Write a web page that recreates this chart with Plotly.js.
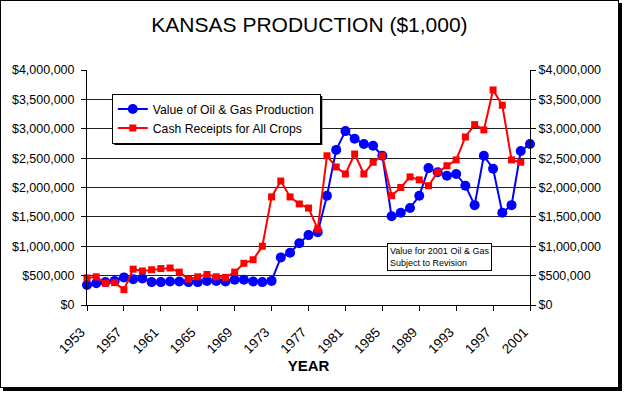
<!DOCTYPE html>
<html>
<head>
<meta charset="utf-8">
<script src="https://cdn.plot.ly/plotly-3.0.1.min.js"></script>
<style>
  html, body { margin: 0; padding: 0; background: #fff; }
  #frame { position: absolute; left: 0; top: 0; width: 619px; height: 388px;
           box-sizing: border-box; border: 1px solid #000; box-shadow: 3px 3px 0 #000; background: #fff; }
  #chart { width: 617px; height: 386px; }
</style>
</head>
<body>
<div id="frame"><div id="chart"></div></div>
<script>
// Years 1953-2001
const years = [1953,1954,1955,1956,1957,1958,1959,1960,1961,1962,
               1963,1964,1965,1966,1967,1968,1969,1970,1971,1972,
               1973,1974,1975,1976,1977,1978,1979,1980,1981,1982,
               1983,1984,1985,1986,1987,1988,1989,1990,1991,1992,
               1993,1994,1995,1996,1997,1998,1999,2000,2001];

// Value of Oil & Gas Production ($1,000)
const oilGas = [340000,370000,390000,410000,470000,440000,450000,390000,390000,400000,
                400000,390000,390000,410000,410000,400000,430000,430000,400000,390000,
                410000,810000,890000,1050000,1190000,1240000,1860000,2640000,2960000,2830000,
                2740000,2710000,2540000,1510000,1570000,1650000,1860000,2330000,2260000,2200000,
                2230000,2030000,1700000,2540000,2320000,1570000,1700000,2620000,2740000];

// Cash Receipts for All Crops ($1,000), 1953-2000
const crops = [460000,480000,370000,380000,260000,610000,580000,600000,620000,630000,
               560000,440000,480000,520000,480000,470000,560000,710000,770000,1000000,
               1840000,2110000,1840000,1720000,1650000,1290000,2540000,2350000,2230000,2570000,
               2230000,2430000,2540000,1860000,2000000,2180000,2130000,2030000,2260000,2370000,
               2470000,2860000,3070000,2980000,3660000,3400000,2470000,2430000];

const yearTicks = [1953,1957,1961,1965,1969,1973,1977,1981,1985,1989,1993,1997,2001];

const FONT = '"Liberation Sans", Arial, sans-serif';

const traces = [
  { x: years, y: oilGas, type: 'scatter', mode: 'lines+markers', cliponaxis: false,
    name: 'Value of Oil & Gas Production',
    line: { color: '#0000FF', width: 2 },
    marker: { color: '#0000FF', symbol: 'circle', size: 10 } },
  { x: years.slice(0, crops.length), y: crops, type: 'scatter', mode: 'lines+markers', cliponaxis: false,
    name: 'Cash Receipts for All Crops',
    line: { color: '#FF0000', width: 2 },
    marker: { color: '#FF0000', symbol: 'square', size: 7 } },
  { x: years, y: oilGas, yaxis: 'y2', type: 'scatter', mode: 'lines',
    opacity: 0, showlegend: false, hoverinfo: 'skip', line: { width: 0 } }
];

const yCommon = {
  range: [0, 4000000], dtick: 500000, tick0: 0,
  tickprefix: '$', tickformat: ',.0f',
  showline: true, linecolor: '#000', linewidth: 1,
  ticks: 'outside', ticklen: 5, tickcolor: '#000',
  tickfont: { family: FONT, size: 12.5, color: '#000' },
  zeroline: false, fixedrange: true
};

const M = { l: 86, r: 88, t: 69, b: 82 };

const layout = {
  width: 617, height: 386,
  margin: M,
  paper_bgcolor: '#fff', plot_bgcolor: '#fff',
  font: { family: FONT, color: '#000' },
  title: { text: 'KANSAS PRODUCTION ($1,000)', font: { family: FONT, size: 21, color: '#000' },
           x: 0.5, xanchor: 'center', y: 0.94, yanchor: 'middle' },
  showlegend: true,
  legend: { x: 0.056, y: 0.90, xanchor: 'left', yanchor: 'top',
            bgcolor: '#fff', bordercolor: '#000', borderwidth: 1,
            font: { family: FONT, size: 12.2, color: '#000' },
            tracegroupgap: 0, itemwidth: 30 },
  xaxis: {
    range: [1953, 2001], tickvals: yearTicks, ticktext: yearTicks.map(String),
    tickangle: -45, tickfont: { family: FONT, size: 13.5, color: '#000' },
    ticklabelstandoff: 8, ticklabelshift: -6,
    showline: true, linecolor: '#000', linewidth: 1,
    ticks: 'outside', ticklen: 5, tickcolor: '#000',
    showgrid: false, zeroline: false, fixedrange: true,
    title: { text: 'YEAR', font: { family: FONT, size: 15, color: '#000', weight: 'bold' }, standoff: 2 }
  },
  yaxis: Object.assign({}, yCommon, { showgrid: true, gridcolor: '#222', gridwidth: 1, side: 'left', ticklabelstandoff: 4 }),
  yaxis2: Object.assign({}, yCommon, { overlaying: 'y', side: 'right', showgrid: false }),
  annotations: [{
    xref: 'paper', yref: 'paper', x: 0.677, y: 0.264, xanchor: 'left', yanchor: 'top',
    text: 'Value for 2001 Oil &amp; Gas<br>Subject to Revision', align: 'left', showarrow: false,
    font: { family: FONT, size: 9, color: '#000' },
    bgcolor: '#fff', bordercolor: '#000', borderwidth: 1, borderpad: 2
  }]
};

Plotly.newPlot('chart', traces, layout, { displayModeBar: false, staticPlot: true }).then(function (gd) {
  // drop shadow behind the legend box, placed from the legend's rendered size
  const bg = gd.querySelector('.legend .bg');
  if (!bg) return;
  const lb = bg.getBoundingClientRect();
  const gb = gd.getBoundingClientRect();
  const pw = layout.width - M.l - M.r, ph = layout.height - M.t - M.b;
  const fx = function (px) { return (px - gb.left - M.l) / pw; };
  const fy = function (py) { return (gb.top + M.t + ph - py) / ph; };
  const off = 2;
  return Plotly.relayout(gd, { shapes: [{
    type: 'rect', xref: 'paper', yref: 'paper', layer: 'above',
    x0: fx(lb.left + off), x1: fx(lb.right + off), y0: fy(lb.bottom + off), y1: fy(lb.top + off),
    fillcolor: '#000', line: { width: 0 }
  }] });
});
</script>
</body>
</html>
